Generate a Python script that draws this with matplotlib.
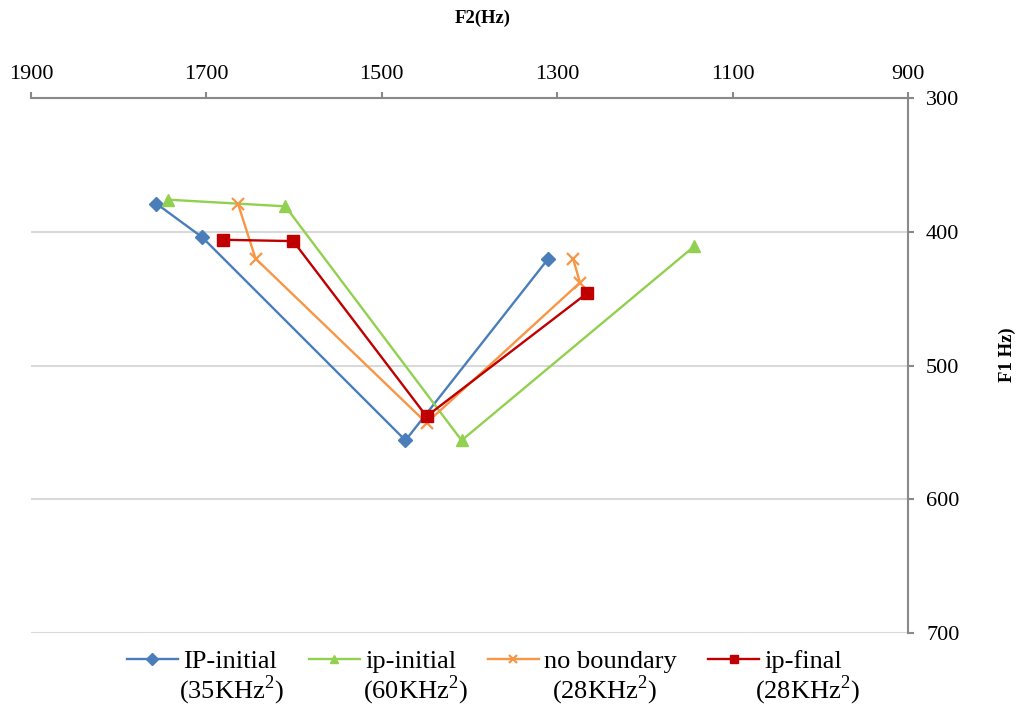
import matplotlib
matplotlib.use("Agg")
import matplotlib.pyplot as plt

plt.rcParams['font.family'] = ['Liberation Serif', 'DejaVu Serif']
plt.rcParams['mathtext.fontset'] = 'custom'
plt.rcParams['mathtext.rm'] = 'Liberation Serif'

# F2 / F1 formant values (Hz)
ip_initial_f2 = [1757, 1705, 1473, 1310]
ip_initial_f1 = [379, 404, 556, 420]

ip_initial60_f2 = [1744, 1610, 1409, 1144]
ip_initial60_f1 = [376, 381, 556, 411]

no_boundary_f2 = [1664, 1644, 1449, 1274, 1282]
no_boundary_f1 = [379, 420, 543, 438, 420]

ip_final_f2 = [1681, 1601, 1449, 1266]
ip_final_f1 = [406, 407, 538, 446]

series_names = ['IP-initial', 'ip-initial', 'no boundary', 'ip-final']
series_sub = [r'(35KHz$^{\mathrm{2}}$)', r'(60KHz$^{\mathrm{2}}$)',
              r'(28KHz$^{\mathrm{2}}$)', r'(28KHz$^{\mathrm{2}}$)']

x_ticks = [1900, 1700, 1500, 1300, 1100, 900]
y_ticks = [300, 400, 500, 600, 700]

fig = plt.figure(figsize=(10.18, 7.08), dpi=100)
ax = fig.add_axes([31/1018, 1 - 633/708, (908-31)/1018, (633-98)/708])

lw = 1.7
ax.plot(ip_initial_f2, ip_initial_f1, color='#4A7EBB', lw=lw, marker='D', ms=7,
        label=series_names[0])
ax.plot(ip_initial60_f2, ip_initial60_f1, color='#92D050', lw=lw, marker='^', ms=8,
        label=series_names[1])
ax.plot(no_boundary_f2, no_boundary_f1, color='#F79646', lw=lw, marker='x', ms=9,
        mew=1.6, label=series_names[2])
ax.plot(ip_final_f2, ip_final_f1, color='#C00000', lw=lw, marker='s', ms=8,
        label=series_names[3])

ax.set_xlim(1900, 900)
ax.set_ylim(700, 300)
ax.set_xticks(x_ticks)
ax.set_yticks(y_ticks)
ax.xaxis.tick_top()
ax.yaxis.tick_right()
ax.tick_params(axis='x', length=4, width=1.5, color='#898989', pad=6, labelsize=16)
ax.tick_params(axis='y', length=4, width=1.5, color='#898989', pad=9, labelsize=16)

for s in ['left', 'bottom']:
    ax.spines[s].set_visible(False)
for s in ['top', 'right']:
    ax.spines[s].set_color('#898989')
    ax.spines[s].set_linewidth(1.5)

ax.yaxis.grid(True, color='#d9d9d9', lw=1.5)
ax.set_axisbelow(True)

fig.text(483/1018, 1 - 18/708, 'F2(Hz)', ha='center', va='center',
         fontsize=13.5, fontweight='bold')
fig.text(1007/1018, 1 - 355/708, 'F1 Hz)', ha='center', va='center',
         rotation=90, fontsize=13.5, fontweight='bold')

leg = fig.legend(loc='center left', bbox_to_anchor=(127/1018, 1 - 661/708),
                 ncol=4, frameon=False, fontsize=19, handlelength=1.93,
                 handletextpad=0.2, columnspacing=1.2, borderaxespad=0,
                 borderpad=0)
for h in leg.legend_handles:
    h.set_markersize(6)

sub_x = [231, 415, 604, 807]
for x, t in zip(sub_x, series_sub):
    fig.text(x/1018, 1 - 690/708, t, ha='center', va='center', fontsize=19)

fig.savefig('out.png', dpi=100)
